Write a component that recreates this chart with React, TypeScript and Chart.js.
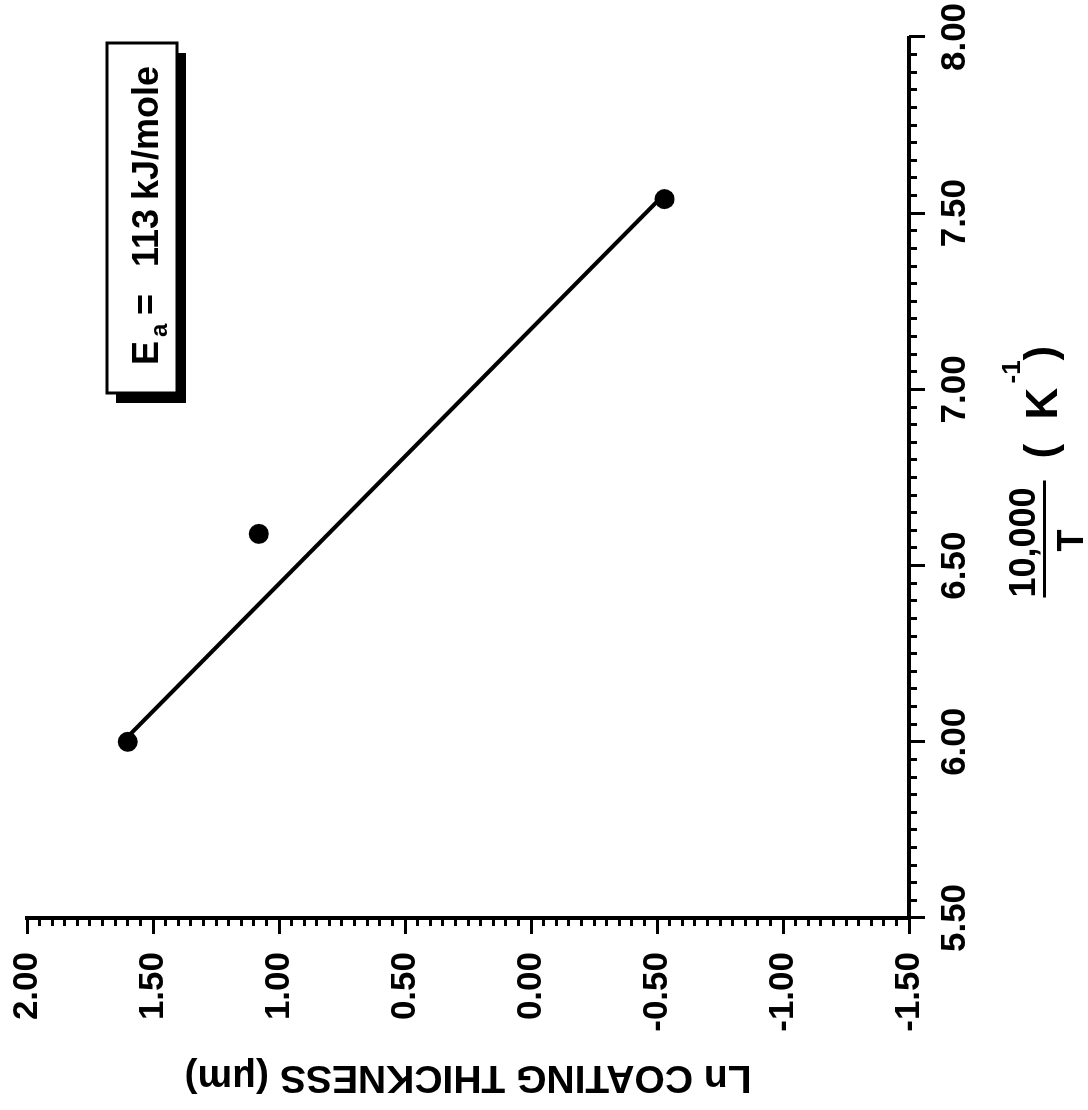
import React, { useEffect, useRef } from 'react';
import { Chart, registerables } from 'chart.js';

Chart.register(...registerables);

// 10,000/T (K^-1) of the measured points
const invT = [6.0, 6.59, 7.54];
// Ln coating thickness (um) of the measured points
const lnThickness = [1.6, 1.08, -0.53];
// end points of the fitted Arrhenius line
const fitInvT = [6.0, 7.54];
const fitLnThickness = [1.62, -0.51];
// axis ranges / tick steps
const xRange = [5.5, 8.0];
const yRange = [-1.5, 2.0];
const majorStep = 0.5;
const minorStep = 0.05;
const annotationParts = ['E', 'a', '=', '113', 'kJ/mole'];
const yTitle = 'Ln COATING THICKNESS (\u03bcm)';

const FONT = "'Liberation Sans', Arial, Helvetica, sans-serif";

const annotationPlugin = {
  id: 'eaBox',
  afterDraw(chart: any) {
    const { ctx, chartArea } = chart;
    const W = 350;
    const H = 70;
    const L = chartArea.right - 356;
    const T = chartArea.top + 80;
    ctx.save();
    ctx.fillStyle = '#000';
    ctx.fillRect(L - 10, T + 9, W, H);
    ctx.fillStyle = '#fff';
    ctx.fillRect(L, T, W, H);
    ctx.lineWidth = 3;
    ctx.strokeStyle = '#000';
    ctx.strokeRect(L, T, W, H);
    ctx.fillStyle = '#000';
    ctx.textAlign = 'left';
    ctx.textBaseline = 'alphabetic';
    const base = T + 51;
    ctx.font = `bold 36px ${FONT}`;
    ctx.fillText(annotationParts[0], L + 28, base);
    ctx.font = `bold 24px ${FONT}`;
    ctx.fillText(annotationParts[1], L + 56, base + 9);
    ctx.font = `bold 36px ${FONT}`;
    ctx.fillText(annotationParts[2], L + 78, base);
    ctx.fillText(annotationParts[3], L + 126, base);
    ctx.fillText(annotationParts[4], L + 193, base);
    ctx.restore();
  },
};

const xTitlePlugin = {
  id: 'xTitle',
  afterDraw(chart: any) {
    const { ctx, chartArea } = chart;
    const uC = (chartArea.left + chartArea.right) / 2;
    const b = chartArea.bottom;
    ctx.save();
    ctx.fillStyle = '#000';
    ctx.textAlign = 'center';
    ctx.textBaseline = 'alphabetic';
    ctx.font = `bold 36px ${FONT}`;
    ctx.fillText('10,000', uC - 65, b + 126);
    ctx.fillRect(uC - 120, b + 134, 117, 3);
    ctx.fillText('T', uC - 63, b + 174);
    ctx.textAlign = 'left';
    ctx.font = `bold 44px ${FONT}`;
    ctx.fillText('(', uC + 19, b + 146);
    ctx.fillText('K', uC + 58, b + 148);
    ctx.font = `bold 26px ${FONT}`;
    ctx.fillText('-1', uC + 94, b + 111);
    ctx.font = `bold 44px ${FONT}`;
    ctx.fillText(')', uC + 117, b + 146);
    ctx.restore();
  },
};

export default function App() {
  const ref = useRef<HTMLCanvasElement | null>(null);

  useEffect(() => {
    document.body.style.margin = '0';
    document.body.style.overflow = 'hidden';
    document.body.style.background = '#fff';
    const canvas = ref.current;
    if (!canvas) return;

    const tickFont = { family: FONT, size: 35, weight: 'bold' as const };

    const chart = new Chart(canvas, {
      type: 'scatter',
      data: {
        datasets: [
          {
            label: 'data',
            data: invT.map((x, i) => ({ x, y: lnThickness[i] })),
            backgroundColor: '#000',
            borderColor: '#000',
            pointRadius: 10,
            pointBorderWidth: 0,
            order: 0,
          },
          {
            label: 'fit',
            data: fitInvT.map((x, i) => ({ x, y: fitLnThickness[i] })),
            showLine: true,
            borderColor: '#000',
            borderWidth: 4,
            pointRadius: 0,
            fill: false,
            order: 1,
          } as any,
        ],
      },
      options: {
        responsive: false,
        animation: false,
        devicePixelRatio: 1,
        layout: { padding: { top: 27, right: 37, left: 0, bottom: 0 } },
        plugins: {
          legend: { display: false },
          tooltip: { enabled: false },
        },
        scales: {
          x: {
            type: 'linear',
            position: 'bottom',
            weight: 1,
            min: xRange[0],
            max: xRange[1],
            border: { display: true, color: '#000', width: 4 },
            grid: { drawOnChartArea: false, tickLength: 16, tickWidth: 3, tickColor: '#000' },
            ticks: {
              stepSize: majorStep,
              autoSkip: false,
              maxRotation: 0,
              minRotation: 0,
              padding: 9,
              color: '#000',
              font: tickFont,
              callback: (v: any) => Number(v).toFixed(2),
            },
            afterFit: (s: any) => {
              s.height = 179;
              s.paddingLeft = 0;
              s.paddingRight = 0;
            },
          },
          x2: {
            type: 'linear',
            axis: 'x',
            position: 'bottom',
            weight: 0,
            min: xRange[0],
            max: xRange[1],
            border: { display: false },
            grid: { drawOnChartArea: false, tickLength: 8, tickWidth: 3, tickColor: '#000' },
            ticks: { stepSize: minorStep, autoSkip: false, display: false },
            afterFit: (s: any) => {
              s.height = 0;
              s.paddingLeft = 0;
              s.paddingRight = 0;
            },
          },
          y: {
            type: 'linear',
            position: 'left',
            weight: 1,
            min: yRange[0],
            max: yRange[1],
            border: { display: true, color: '#000', width: 4 },
            grid: { drawOnChartArea: false, tickLength: 16, tickWidth: 3, tickColor: '#000' },
            title: {
              display: true,
              text: yTitle,
              color: '#000',
              font: { family: FONT, size: 39, weight: 'bold' },
              padding: { top: 10, bottom: 0 },
            },
            ticks: {
              stepSize: majorStep,
              autoSkip: false,
              padding: 18,
              color: '#000',
              font: tickFont,
              callback: (v: any) => Number(v).toFixed(2),
            },
            afterFit: (s: any) => {
              s.width = 192;
              s.paddingTop = 0;
              s.paddingBottom = 0;
            },
          },
          y2: {
            type: 'linear',
            axis: 'y',
            position: 'left',
            weight: 0,
            min: yRange[0],
            max: yRange[1],
            border: { display: false },
            grid: { drawOnChartArea: false, tickLength: 8, tickWidth: 3, tickColor: '#000' },
            ticks: { stepSize: minorStep, autoSkip: false, display: false },
            afterFit: (s: any) => {
              s.width = 0;
              s.paddingTop = 0;
              s.paddingBottom = 0;
            },
          },
        },
      } as any,
      plugins: [annotationPlugin, xTitlePlugin],
    });

    return () => {
      chart.destroy();
    };
  }, []);

  return (
    <div
      style={{
        position: 'relative',
        width: 1088,
        height: 1110,
        overflow: 'hidden',
        background: '#fff',
      }}
    >
      <canvas
        ref={ref}
        width={1110}
        height={1088}
        style={{
          position: 'absolute',
          left: 0,
          top: 0,
          width: 1110,
          height: 1088,
          transformOrigin: '0 0',
          transform: 'translate(0px, 1110px) rotate(-90deg)',
        }}
      />
    </div>
  );
}
